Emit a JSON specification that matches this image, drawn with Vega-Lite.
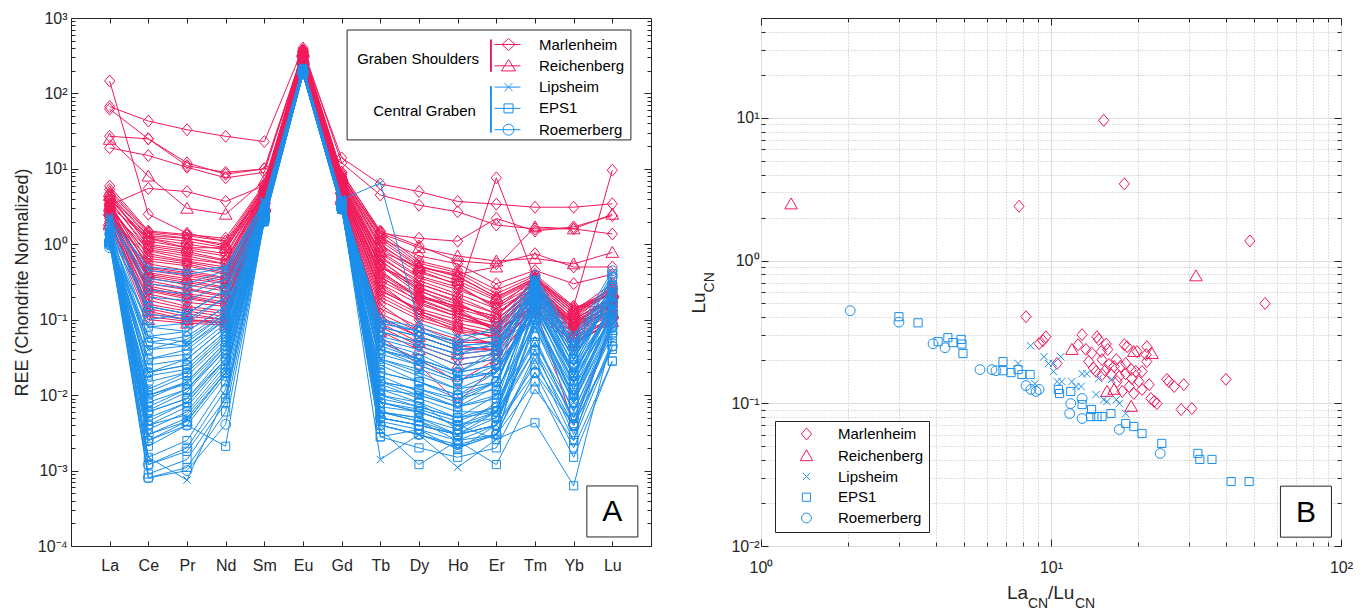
{
"$schema": "https://vega.github.io/schema/vega-lite/v6.json",
"background": "white",
"padding": {"left": 12, "top": 9, "right": 5, "bottom": 5},
"config": {
  "font": "Liberation Sans",
  "view": {"stroke": "#262626", "strokeWidth": 1},
  "axis": {"labelColor": "#262626", "titleColor": "#262626", "tickColor": "#262626", "domain": false, "labelFontSize": 16, "titleFontSize": 18, "titleFontWeight": "normal", "grid": false, "labelOverlap": false, "labelFlush": false},
  "legend": {"labelColor": "#000000", "labelFontSize": 15}
},
"datasets": {
"ree": [
{"id":"M1","site":"Marlenheim","La":146,"Ce":2.5,"Pr":1.4,"Nd":1.1,"Sm":4.5,"Eu":320,"Gd":6,"Tb":0.5,"Dy":0.3,"Ho":0.2,"Er":7.6,"Tm":0.35,"Yb":0.15,"Lu":9.6},
{"id":"M2","site":"Marlenheim","La":62,"Ce":25,"Pr":11,"Nd":9,"Sm":10,"Eu":360,"Gd":14,"Tb":6.3,"Dy":5,"Ho":3.7,"Er":3.4,"Tm":3.1,"Yb":3.1,"Lu":3.44},
{"id":"M3","site":"Marlenheim","La":67,"Ce":43,"Pr":33,"Nd":27,"Sm":23,"Eu":400,"Gd":12,"Tb":4.5,"Dy":3.3,"Ho":2.7,"Er":1.8,"Tm":1.6,"Yb":1.6,"Lu":1.37},
{"id":"M4","site":"Marlenheim","La":19,"Ce":15,"Pr":10.5,"Nd":7.6,"Sm":9,"Eu":350,"Gd":8,"Tb":1.4,"Dy":1.2,"Ho":1.1,"Er":2.2,"Tm":1.5,"Yb":1.7,"Lu":2.4},
{"id":"M5","site":"Marlenheim","La":27,"Ce":25,"Pr":12,"Nd":8.5,"Sm":10,"Eu":330,"Gd":9,"Tb":1.5,"Dy":0.95,"Ho":0.6,"Er":0.55,"Tm":0.75,"Yb":0.5,"Lu":0.5},
{"id":"M6","site":"Marlenheim","La":3.3,"Ce":5.5,"Pr":5,"Nd":3.7,"Sm":6,"Eu":300,"Gd":7,"Tb":1.2,"Dy":0.7,"Ho":0.55,"Er":0.3,"Tm":0.45,"Yb":0.3,"Lu":0.4},
{"id":"M7","site":"Marlenheim","La":2.57,"Ce":0.45,"Pr":0.38,"Nd":0.31,"Sm":4.1,"Eu":290,"Gd":5.6,"Tb":0.42,"Dy":0.21,"Ho":0.15,"Er":0.11,"Tm":0.31,"Yb":0.11,"Lu":0.274},
{"id":"M8","site":"Marlenheim","La":3.87,"Ce":0.82,"Pr":0.64,"Nd":0.55,"Sm":4.8,"Eu":320,"Gd":6.4,"Tb":0.65,"Dy":0.33,"Ho":0.22,"Er":0.14,"Tm":0.36,"Yb":0.13,"Lu":0.302},
{"id":"M9","site":"Marlenheim","La":4.07,"Ce":1.1,"Pr":0.9,"Nd":0.75,"Sm":5.2,"Eu":340,"Gd":7.1,"Tb":0.9,"Dy":0.42,"Ho":0.3,"Er":0.18,"Tm":0.33,"Yb":0.12,"Lu":0.279},
{"id":"M10","site":"Marlenheim","La":3.19,"Ce":0.36,"Pr":0.29,"Nd":0.24,"Sm":3.9,"Eu":270,"Gd":5.1,"Tb":0.33,"Dy":0.18,"Ho":0.12,"Er":0.09,"Tm":0.28,"Yb":0.1,"Lu":0.257},
{"id":"M11","site":"Marlenheim","La":3.43,"Ce":0.6,"Pr":0.52,"Nd":0.4,"Sm":4.5,"Eu":300,"Gd":6.0,"Tb":0.5,"Dy":0.26,"Ho":0.18,"Er":0.12,"Tm":0.3,"Yb":0.11,"Lu":0.23},
{"id":"M12","site":"Marlenheim","La":4.6,"Ce":1.3,"Pr":1.2,"Nd":0.95,"Sm":5.6,"Eu":360,"Gd":7.8,"Tb":1.1,"Dy":0.5,"Ho":0.38,"Er":0.2,"Tm":0.35,"Yb":0.13,"Lu":0.257},
{"id":"M13","site":"Marlenheim","La":5.33,"Ce":1.45,"Pr":1.3,"Nd":1.1,"Sm":6.0,"Eu":370,"Gd":8.5,"Tb":1.3,"Dy":0.56,"Ho":0.42,"Er":0.22,"Tm":0.38,"Yb":0.14,"Lu":0.249},
{"id":"M14","site":"Marlenheim","La":4.55,"Ce":0.95,"Pr":0.8,"Nd":0.62,"Sm":5.0,"Eu":330,"Gd":6.8,"Tb":0.75,"Dy":0.36,"Ho":0.25,"Er":0.16,"Tm":0.32,"Yb":0.12,"Lu":0.23},
{"id":"M15","site":"Marlenheim","La":3.03,"Ce":0.28,"Pr":0.22,"Nd":0.19,"Sm":3.7,"Eu":260,"Gd":4.8,"Tb":0.25,"Dy":0.13,"Ho":0.09,"Er":0.07,"Tm":0.25,"Yb":0.09,"Lu":0.202},
{"id":"M16","site":"Marlenheim","La":3.39,"Ce":0.5,"Pr":0.42,"Nd":0.35,"Sm":4.3,"Eu":295,"Gd":5.7,"Tb":0.4,"Dy":0.2,"Ho":0.14,"Er":0.1,"Tm":0.27,"Yb":0.1,"Lu":0.202},
{"id":"M17","site":"Marlenheim","La":2.96,"Ce":0.22,"Pr":0.17,"Nd":0.15,"Sm":3.6,"Eu":250,"Gd":4.6,"Tb":0.18,"Dy":0.1,"Ho":0.07,"Er":0.06,"Tm":0.24,"Yb":0.085,"Lu":0.187},
{"id":"M18","site":"Marlenheim","La":3.15,"Ce":0.4,"Pr":0.33,"Nd":0.27,"Sm":4.0,"Eu":280,"Gd":5.3,"Tb":0.3,"Dy":0.16,"Ho":0.11,"Er":0.08,"Tm":0.26,"Yb":0.095,"Lu":0.181},
{"id":"M19","site":"Marlenheim","La":3.25,"Ce":0.7,"Pr":0.58,"Nd":0.46,"Sm":4.4,"Eu":305,"Gd":5.9,"Tb":0.55,"Dy":0.24,"Ho":0.16,"Er":0.1,"Tm":0.25,"Yb":0.09,"Lu":0.172},
{"id":"M20","site":"Marlenheim","La":3.44,"Ce":0.33,"Pr":0.26,"Nd":0.21,"Sm":3.8,"Eu":265,"Gd":5.0,"Tb":0.22,"Dy":0.12,"Ho":0.08,"Er":0.065,"Tm":0.22,"Yb":0.08,"Lu":0.167},
{"id":"M21","site":"Marlenheim","La":4.19,"Ce":1.0,"Pr":0.85,"Nd":0.7,"Sm":5.1,"Eu":335,"Gd":6.9,"Tb":0.8,"Dy":0.38,"Ho":0.27,"Er":0.15,"Tm":0.29,"Yb":0.1,"Lu":0.196},
{"id":"M22","site":"Marlenheim","La":2.39,"Ce":0.18,"Pr":0.14,"Nd":0.12,"Sm":3.4,"Eu":240,"Gd":4.3,"Tb":0.14,"Dy":0.08,"Ho":0.055,"Er":0.05,"Tm":0.2,"Yb":0.075,"Lu":0.167},
{"id":"M23","site":"Marlenheim","La":2.56,"Ce":0.25,"Pr":0.2,"Nd":0.16,"Sm":3.5,"Eu":255,"Gd":4.5,"Tb":0.2,"Dy":0.11,"Ho":0.075,"Er":0.06,"Tm":0.21,"Yb":0.08,"Lu":0.159},
{"id":"M24","site":"Marlenheim","La":2.65,"Ce":0.55,"Pr":0.45,"Nd":0.36,"Sm":4.2,"Eu":285,"Gd":5.5,"Tb":0.45,"Dy":0.19,"Ho":0.12,"Er":0.08,"Tm":0.23,"Yb":0.085,"Lu":0.154},
{"id":"M25","site":"Marlenheim","La":2.83,"Ce":0.14,"Pr":0.11,"Nd":0.1,"Sm":3.3,"Eu":235,"Gd":4.2,"Tb":0.1,"Dy":0.06,"Ho":0.04,"Er":0.04,"Tm":0.18,"Yb":0.07,"Lu":0.149},
{"id":"M26","site":"Marlenheim","La":2.94,"Ce":0.75,"Pr":0.6,"Nd":0.5,"Sm":4.6,"Eu":310,"Gd":6.1,"Tb":0.6,"Dy":0.27,"Ho":0.17,"Er":0.09,"Tm":0.22,"Yb":0.075,"Lu":0.135},
{"id":"M27","site":"Marlenheim","La":2.44,"Ce":0.3,"Pr":0.25,"Nd":0.2,"Sm":3.6,"Eu":260,"Gd":4.7,"Tb":0.27,"Dy":0.13,"Ho":0.085,"Er":0.055,"Tm":0.19,"Yb":0.07,"Lu":0.131},
{"id":"M28","site":"Marlenheim","La":2.58,"Ce":0.12,"Pr":0.1,"Nd":0.09,"Sm":3.2,"Eu":230,"Gd":4.0,"Tb":0.08,"Dy":0.045,"Ho":0.03,"Er":0.035,"Tm":0.17,"Yb":0.065,"Lu":0.125},
{"id":"M29","site":"Marlenheim","La":2.34,"Ce":0.65,"Pr":0.55,"Nd":0.42,"Sm":4.3,"Eu":300,"Gd":5.8,"Tb":0.52,"Dy":0.22,"Ho":0.13,"Er":0.07,"Tm":0.16,"Yb":0.06,"Lu":0.103},
{"id":"M30","site":"Marlenheim","La":2.31,"Ce":0.2,"Pr":0.15,"Nd":0.13,"Sm":3.4,"Eu":245,"Gd":4.4,"Tb":0.16,"Dy":0.07,"Ho":0.045,"Er":0.04,"Tm":0.15,"Yb":0.055,"Lu":0.0995},
{"id":"M31","site":"Marlenheim","La":3.69,"Ce":0.9,"Pr":0.75,"Nd":0.6,"Sm":4.9,"Eu":325,"Gd":6.6,"Tb":0.7,"Dy":0.3,"Ho":0.2,"Er":0.12,"Tm":0.27,"Yb":0.09,"Lu":0.147},
{"id":"M32","site":"Marlenheim","La":3.48,"Ce":0.48,"Pr":0.4,"Nd":0.33,"Sm":4.2,"Eu":290,"Gd":5.4,"Tb":0.38,"Dy":0.17,"Ho":0.11,"Er":0.075,"Tm":0.24,"Yb":0.08,"Lu":0.131},
{"id":"M33","site":"Marlenheim","La":3.87,"Ce":1.2,"Pr":1.0,"Nd":0.85,"Sm":5.4,"Eu":350,"Gd":7.4,"Tb":1.0,"Dy":0.45,"Ho":0.29,"Er":0.14,"Tm":0.26,"Yb":0.085,"Lu":0.135},
{"id":"M34","site":"Marlenheim","La":2.54,"Ce":0.38,"Pr":0.31,"Nd":0.26,"Sm":3.9,"Eu":275,"Gd":5.0,"Tb":0.3,"Dy":0.12,"Ho":0.07,"Er":0.045,"Tm":0.14,"Yb":0.05,"Lu":0.0904},
{"id":"M35","site":"Marlenheim","La":2.81,"Ce":0.85,"Pr":0.7,"Nd":0.55,"Sm":4.7,"Eu":315,"Gd":6.3,"Tb":0.62,"Dy":0.25,"Ho":0.14,"Er":0.07,"Tm":0.15,"Yb":0.004,"Lu":0.0918},
{"id":"M36","site":"Marlenheim","La":5.9,"Ce":1.5,"Pr":1.35,"Nd":1.2,"Sm":6.2,"Eu":380,"Gd":9.0,"Tb":1.45,"Dy":0.6,"Ho":0.45,"Er":0.25,"Tm":0.4,"Yb":0.15,"Lu":0.147},
{"id":"M37","site":"Marlenheim","La":2.0,"Ce":0.16,"Pr":0.13,"Nd":0.11,"Sm":3.2,"Eu":235,"Gd":4.1,"Tb":0.12,"Dy":0.07,"Ho":0.05,"Er":0.05,"Tm":0.22,"Yb":0.09,"Lu":0.19},
{"id":"M38","site":"Marlenheim","La":2.65,"Ce":0.26,"Pr":0.21,"Nd":0.17,"Sm":3.7,"Eu":260,"Gd":4.9,"Tb":0.24,"Dy":0.14,"Ho":0.1,"Er":0.08,"Tm":0.27,"Yb":0.1,"Lu":0.196},
{"id":"M39","site":"Marlenheim","La":2.2,"Ce":0.11,"Pr":0.095,"Nd":0.09,"Sm":3.0,"Eu":220,"Gd":3.8,"Tb":0.06,"Dy":0.025,"Ho":0.008,"Er":0.025,"Tm":0.12,"Yb":0.045,"Lu":0.1},
{"id":"M40","site":"Marlenheim","La":2.4,"Ce":0.24,"Pr":0.19,"Nd":0.16,"Sm":3.5,"Eu":250,"Gd":4.5,"Tb":0.05,"Dy":0.03,"Ho":0.015,"Er":0.03,"Tm":0.13,"Yb":0.05,"Lu":0.11},
{"id":"R1","site":"Reichenberg","La":3.2,"Ce":1.2,"Pr":0.9,"Nd":0.9,"Sm":4.5,"Eu":280,"Gd":5.5,"Tb":0.8,"Dy":0.5,"Ho":0.4,"Er":0.5,"Tm":1.7,"Yb":1.6,"Lu":2.5},
{"id":"R2","site":"Reichenberg","La":24.6,"Ce":8,"Pr":3,"Nd":2.5,"Sm":7,"Eu":300,"Gd":8,"Tb":1.4,"Dy":0.9,"Ho":0.7,"Er":0.6,"Tm":0.65,"Yb":0.55,"Lu":0.78},
{"id":"R3","site":"Reichenberg","La":2.81,"Ce":0.42,"Pr":0.35,"Nd":0.3,"Sm":4.0,"Eu":285,"Gd":5.4,"Tb":0.36,"Dy":0.2,"Ho":0.15,"Er":0.11,"Tm":0.33,"Yb":0.12,"Lu":0.238},
{"id":"R4","site":"Reichenberg","La":1.8,"Ce":0.1,"Pr":0.09,"Nd":0.085,"Sm":3.1,"Eu":225,"Gd":3.9,"Tb":0.07,"Dy":0.04,"Ho":0.025,"Er":0.03,"Tm":0.14,"Yb":0.05,"Lu":0.095},
{"id":"R5","site":"Reichenberg","La":2.06,"Ce":0.15,"Pr":0.12,"Nd":0.1,"Sm":3.3,"Eu":240,"Gd":4.2,"Tb":0.11,"Dy":0.06,"Ho":0.04,"Er":0.045,"Tm":0.18,"Yb":0.065,"Lu":0.125},
{"id":"R6","site":"Reichenberg","La":4.44,"Ce":1.25,"Pr":1.1,"Nd":0.9,"Sm":5.5,"Eu":355,"Gd":7.5,"Tb":0.95,"Dy":0.48,"Ho":0.33,"Er":0.19,"Tm":0.34,"Yb":0.13,"Lu":0.23},
{"id":"R7","site":"Reichenberg","La":4.97,"Ce":1.4,"Pr":1.2,"Nd":1.0,"Sm":5.8,"Eu":365,"Gd":8.2,"Tb":1.2,"Dy":0.52,"Ho":0.37,"Er":0.2,"Tm":0.36,"Yb":0.14,"Lu":0.223},
{"id":"R8","site":"Reichenberg","La":1.89,"Ce":0.13,"Pr":0.1,"Nd":0.095,"Sm":3.2,"Eu":230,"Gd":4.0,"Tb":0.09,"Dy":0.05,"Ho":0.035,"Er":0.04,"Tm":0.16,"Yb":0.06,"Lu":0.121},
{"id":"L1","site":"Lipsheim","La":1.46,"Ce":0.06,"Pr":0.05,"Nd":0.12,"Sm":2.8,"Eu":200,"Gd":3.4,"Tb":0.05,"Dy":0.03,"Ho":0.02,"Er":0.025,"Tm":0.3,"Yb":0.04,"Lu":0.19},
{"id":"L2","site":"Lipsheim","La":2.15,"Ce":0.35,"Pr":0.3,"Nd":0.45,"Sm":3.6,"Eu":220,"Gd":3.9,"Tb":6.5,"Dy":0.09,"Ho":0.06,"Er":0.07,"Tm":0.35,"Yb":0.06,"Lu":0.253},
{"id":"L3","site":"Lipsheim","La":1.86,"Ce":0.15,"Pr":0.12,"Nd":0.25,"Sm":3.2,"Eu":212,"Gd":3.7,"Tb":0.06,"Dy":0.045,"Ho":0.03,"Er":0.035,"Tm":0.25,"Yb":0.035,"Lu":0.19},
{"id":"L4","site":"Lipsheim","La":2.29,"Ce":0.5,"Pr":0.45,"Nd":0.5,"Sm":3.8,"Eu":225,"Gd":4.0,"Tb":0.1,"Dy":0.08,"Ho":0.05,"Er":0.06,"Tm":0.32,"Yb":0.05,"Lu":0.212},
{"id":"L5","site":"Lipsheim","La":1.49,"Ce":0.02,"Pr":0.03,"Nd":0.08,"Sm":2.6,"Eu":195,"Gd":3.3,"Tb":0.0014,"Dy":0.003,"Ho":0.0011,"Er":0.0026,"Tm":0.2,"Yb":0.02,"Lu":0.142},
{"id":"L6","site":"Lipsheim","La":1.68,"Ce":0.04,"Pr":0.045,"Nd":0.11,"Sm":2.9,"Eu":203,"Gd":3.5,"Tb":0.03,"Dy":0.02,"Ho":0.012,"Er":0.015,"Tm":0.22,"Yb":0.025,"Lu":0.142},
{"id":"L7","site":"Lipsheim","La":1.66,"Ce":0.01,"Pr":0.015,"Nd":0.05,"Sm":2.5,"Eu":193,"Gd":3.25,"Tb":0.015,"Dy":0.01,"Ho":0.007,"Er":0.01,"Tm":0.18,"Yb":0.02,"Lu":0.131},
{"id":"L8","site":"Lipsheim","La":2.06,"Ce":0.25,"Pr":0.22,"Nd":0.35,"Sm":3.4,"Eu":215,"Gd":3.8,"Tb":0.07,"Dy":0.05,"Ho":0.035,"Er":0.04,"Tm":0.28,"Yb":0.04,"Lu":0.161},
{"id":"L9","site":"Lipsheim","La":2.18,"Ce":0.3,"Pr":0.26,"Nd":0.4,"Sm":3.5,"Eu":218,"Gd":3.85,"Tb":0.08,"Dy":0.06,"Ho":0.04,"Er":0.045,"Tm":0.3,"Yb":0.045,"Lu":0.149},
{"id":"L10","site":"Lipsheim","La":2.38,"Ce":0.45,"Pr":0.4,"Nd":0.48,"Sm":3.7,"Eu":222,"Gd":3.95,"Tb":0.09,"Dy":0.07,"Ho":0.045,"Er":0.05,"Tm":0.34,"Yb":0.05,"Lu":0.147},
{"id":"L11","site":"Lipsheim","La":1.64,"Ce":0.005,"Pr":0.008,"Nd":0.03,"Sm":2.3,"Eu":188,"Gd":3.1,"Tb":0.008,"Dy":0.006,"Ho":0.004,"Er":0.006,"Tm":0.13,"Yb":0.015,"Lu":0.115},
{"id":"L12","site":"Lipsheim","La":1.61,"Ce":0.0015,"Pr":0.00075,"Nd":0.01,"Sm":2.1,"Eu":182,"Gd":3.0,"Tb":0.004,"Dy":0.003,"Ho":0.002,"Er":0.003,"Tm":0.1,"Yb":0.01,"Lu":0.103},
{"id":"L13","site":"Lipsheim","La":1.78,"Ce":0.08,"Pr":0.07,"Nd":0.15,"Sm":3.0,"Eu":206,"Gd":3.6,"Tb":0.04,"Dy":0.028,"Ho":0.018,"Er":0.02,"Tm":0.16,"Yb":0.018,"Lu":0.106},
{"id":"L14","site":"Lipsheim","La":1.53,"Ce":0.003,"Pr":0.005,"Nd":0.02,"Sm":2.2,"Eu":185,"Gd":3.05,"Tb":0.006,"Dy":0.005,"Ho":0.003,"Er":0.004,"Tm":0.08,"Yb":0.008,"Lu":0.0847},
{"id":"L15","site":"Lipsheim","La":2.0,"Ce":0.12,"Pr":0.1,"Nd":0.2,"Sm":3.1,"Eu":210,"Gd":3.65,"Tb":0.055,"Dy":0.04,"Ho":0.025,"Er":0.03,"Tm":0.24,"Yb":0.03,"Lu":0.212},
{"id":"E1","site":"EPS1","La":1.21,"Ce":0.04,"Pr":0.055,"Nd":0.12,"Sm":2.6,"Eu":195,"Gd":3.3,"Tb":0.045,"Dy":0.03,"Ho":0.02,"Er":0.035,"Tm":0.32,"Yb":0.05,"Lu":0.404},
{"id":"E2","site":"EPS1","La":1.27,"Ce":0.012,"Pr":0.02,"Nd":0.06,"Sm":2.4,"Eu":190,"Gd":3.2,"Tb":0.02,"Dy":0.015,"Ho":0.01,"Er":0.02,"Tm":0.3,"Yb":0.04,"Lu":0.366},
{"id":"E3","site":"EPS1","La":1.1,"Ce":0.0063,"Pr":0.011,"Nd":0.04,"Sm":2.3,"Eu":185,"Gd":3.1,"Tb":0.012,"Dy":0.01,"Ho":0.007,"Er":0.013,"Tm":0.27,"Yb":0.03,"Lu":0.27},
{"id":"E4","site":"EPS1","La":1.27,"Ce":0.025,"Pr":0.03,"Nd":0.08,"Sm":2.7,"Eu":200,"Gd":3.4,"Tb":0.03,"Dy":0.022,"Ho":0.015,"Er":0.025,"Tm":0.28,"Yb":0.035,"Lu":0.288},
{"id":"E5","site":"EPS1","La":1.22,"Ce":0.0021,"Pr":0.004,"Nd":0.0021,"Sm":2.2,"Eu":182,"Gd":3.0,"Tb":0.006,"Dy":0.005,"Ho":0.0035,"Er":0.008,"Tm":0.24,"Yb":0.02,"Lu":0.266},
{"id":"E6","site":"EPS1","La":1.37,"Ce":0.08,"Pr":0.09,"Nd":0.2,"Sm":2.9,"Eu":205,"Gd":3.5,"Tb":0.07,"Dy":0.05,"Ho":0.035,"Er":0.05,"Tm":0.26,"Yb":0.045,"Lu":0.28},
{"id":"E7","site":"EPS1","La":1.11,"Ce":0.0035,"Pr":0.006,"Nd":0.025,"Sm":2.3,"Eu":186,"Gd":3.1,"Tb":0.009,"Dy":0.007,"Ho":0.005,"Er":0.01,"Tm":0.2,"Yb":0.025,"Lu":0.223},
{"id":"E8","site":"EPS1","La":1.34,"Ce":0.15,"Pr":0.12,"Nd":0.25,"Sm":3.0,"Eu":208,"Gd":3.6,"Tb":0.08,"Dy":0.06,"Ho":0.04,"Er":0.045,"Tm":0.22,"Yb":0.03,"Lu":0.196},
{"id":"E9","site":"EPS1","La":1.15,"Ce":0.009,"Pr":0.015,"Nd":0.05,"Sm":2.4,"Eu":190,"Gd":3.2,"Tb":0.015,"Dy":0.012,"Ho":0.008,"Er":0.015,"Tm":0.18,"Yb":0.018,"Lu":0.169},
{"id":"E10","site":"EPS1","La":1.19,"Ce":0.02,"Pr":0.025,"Nd":0.07,"Sm":2.5,"Eu":193,"Gd":3.2,"Tb":0.028,"Dy":0.018,"Ho":0.012,"Er":0.02,"Tm":0.17,"Yb":0.015,"Lu":0.164},
{"id":"E11","site":"EPS1","La":1.26,"Ce":0.0045,"Pr":0.008,"Nd":0.03,"Sm":2.35,"Eu":188,"Gd":3.1,"Tb":0.0028,"Dy":0.0035,"Ho":0.0019,"Er":0.004,"Tm":0.15,"Yb":0.012,"Lu":0.159},
{"id":"E12","site":"EPS1","La":1.33,"Ce":0.05,"Pr":0.045,"Nd":0.1,"Sm":2.8,"Eu":200,"Gd":3.4,"Tb":0.04,"Dy":0.025,"Ho":0.016,"Er":0.02,"Tm":0.12,"Yb":0.01,"Lu":0.125},
{"id":"E13","site":"EPS1","La":1.42,"Ce":0.0008,"Pr":0.0011,"Nd":0.006,"Sm":2.0,"Eu":178,"Gd":2.9,"Tb":0.0035,"Dy":0.0012,"Ho":0.0025,"Er":0.0012,"Tm":0.012,"Yb":0.0025,"Lu":0.121},
{"id":"E14","site":"EPS1","La":1.25,"Ce":0.007,"Pr":0.012,"Nd":0.045,"Sm":2.4,"Eu":189,"Gd":3.2,"Tb":0.01,"Dy":0.008,"Ho":0.005,"Er":0.007,"Tm":0.1,"Yb":0.008,"Lu":0.098},
{"id":"E15","site":"EPS1","La":1.25,"Ce":0.03,"Pr":0.035,"Nd":0.09,"Sm":2.7,"Eu":198,"Gd":3.4,"Tb":0.025,"Dy":0.015,"Ho":0.009,"Er":0.012,"Tm":0.08,"Yb":0.006,"Lu":0.0904},
{"id":"E16","site":"EPS1","La":1.21,"Ce":0.0015,"Pr":0.0025,"Nd":0.015,"Sm":2.1,"Eu":180,"Gd":3.0,"Tb":0.005,"Dy":0.004,"Ho":0.003,"Er":0.005,"Tm":0.06,"Yb":0.0042,"Lu":0.0807},
{"id":"E17","site":"EPS1","La":1.3,"Ce":0.011,"Pr":0.018,"Nd":0.055,"Sm":2.5,"Eu":192,"Gd":3.3,"Tb":0.018,"Dy":0.011,"Ho":0.007,"Er":0.009,"Tm":0.05,"Yb":0.0063,"Lu":0.0721},
{"id":"E18","site":"EPS1","La":1.26,"Ce":0.0025,"Pr":0.0045,"Nd":0.02,"Sm":2.2,"Eu":184,"Gd":3.05,"Tb":0.007,"Dy":0.006,"Ho":0.004,"Er":0.0026,"Tm":0.0043,"Yb":0.00063,"Lu":0.0614},
{"id":"E19","site":"EPS1","La":1.26,"Ce":0.018,"Pr":0.022,"Nd":0.065,"Sm":2.6,"Eu":195,"Gd":3.3,"Tb":0.014,"Dy":0.009,"Ho":0.006,"Er":0.006,"Tm":0.04,"Yb":0.003,"Lu":0.0523},
{"id":"E20","site":"EPS1","La":1.43,"Ce":0.0012,"Pr":0.0018,"Nd":0.009,"Sm":2.1,"Eu":181,"Gd":3.0,"Tb":0.004,"Dy":0.003,"Ho":0.002,"Er":0.003,"Tm":0.03,"Yb":0.0025,"Lu":0.0445},
{"id":"E21","site":"EPS1","La":1.45,"Ce":0.006,"Pr":0.009,"Nd":0.035,"Sm":2.3,"Eu":187,"Gd":3.1,"Tb":0.006,"Dy":0.0045,"Ho":0.003,"Er":0.004,"Tm":0.025,"Yb":0.004,"Lu":0.0404},
{"id":"E22","site":"EPS1","La":1.18,"Ce":0.0009,"Pr":0.0014,"Nd":0.008,"Sm":2.0,"Eu":179,"Gd":2.9,"Tb":0.0028,"Dy":0.002,"Ho":0.0015,"Er":0.002,"Tm":0.02,"Yb":0.002,"Lu":0.0283},
{"id":"E23","site":"EPS1","La":1.36,"Ce":0.004,"Pr":0.007,"Nd":0.028,"Sm":2.3,"Eu":186,"Gd":3.1,"Tb":0.0045,"Dy":0.0035,"Ho":0.0025,"Er":0.003,"Tm":0.015,"Yb":0.0015,"Lu":0.0283},
{"id":"C1","site":"Roemerberg","La":0.9,"Ce":0.1,"Pr":0.12,"Nd":0.25,"Sm":2.5,"Eu":195,"Gd":3.2,"Tb":0.09,"Dy":0.07,"Ho":0.05,"Er":0.08,"Tm":0.38,"Yb":0.06,"Lu":0.445},
{"id":"C2","site":"Roemerberg","La":1.1,"Ce":0.03,"Pr":0.04,"Nd":0.1,"Sm":2.6,"Eu":196,"Gd":3.3,"Tb":0.04,"Dy":0.03,"Ho":0.02,"Er":0.04,"Tm":0.33,"Yb":0.045,"Lu":0.37},
{"id":"C3","site":"Roemerberg","La":1.02,"Ce":0.008,"Pr":0.012,"Nd":0.04,"Sm":2.3,"Eu":188,"Gd":3.1,"Tb":0.015,"Dy":0.012,"Ho":0.009,"Er":0.015,"Tm":0.25,"Yb":0.03,"Lu":0.261},
{"id":"C4","site":"Roemerberg","La":1.06,"Ce":0.0008,"Pr":0.001,"Nd":0.0041,"Sm":2.0,"Eu":180,"Gd":2.9,"Tb":0.005,"Dy":0.004,"Ho":0.003,"Er":0.006,"Tm":0.22,"Yb":0.025,"Lu":0.245},
{"id":"C5","site":"Roemerberg","La":0.98,"Ce":0.015,"Pr":0.02,"Nd":0.06,"Sm":2.4,"Eu":190,"Gd":3.2,"Tb":0.02,"Dy":0.015,"Ho":0.01,"Er":0.015,"Tm":0.16,"Yb":0.02,"Lu":0.172},
{"id":"C6","site":"Roemerberg","La":1.08,"Ce":0.05,"Pr":0.06,"Nd":0.13,"Sm":2.7,"Eu":198,"Gd":3.4,"Tb":0.035,"Dy":0.025,"Ho":0.016,"Er":0.02,"Tm":0.15,"Yb":0.018,"Lu":0.172},
{"id":"C7","site":"Roemerberg","La":1.09,"Ce":0.004,"Pr":0.0055,"Nd":0.022,"Sm":2.2,"Eu":185,"Gd":3.05,"Tb":0.008,"Dy":0.0065,"Ho":0.0045,"Er":0.007,"Tm":0.14,"Yb":0.014,"Lu":0.169},
{"id":"C8","site":"Roemerberg","La":1.09,"Ce":0.02,"Pr":0.025,"Nd":0.07,"Sm":2.5,"Eu":193,"Gd":3.2,"Tb":0.012,"Dy":0.008,"Ho":0.0035,"Er":0.006,"Tm":0.1,"Yb":0.01,"Lu":0.133},
{"id":"C9","site":"Roemerberg","La":1.07,"Ce":0.0025,"Pr":0.004,"Nd":0.018,"Sm":2.2,"Eu":184,"Gd":3.0,"Tb":0.006,"Dy":0.0045,"Ho":0.0025,"Er":0.004,"Tm":0.09,"Yb":0.008,"Lu":0.125},
{"id":"C10","site":"Roemerberg","La":1.07,"Ce":0.06,"Pr":0.07,"Nd":0.15,"Sm":2.8,"Eu":200,"Gd":3.5,"Tb":0.05,"Dy":0.035,"Ho":0.02,"Er":0.025,"Tm":0.11,"Yb":0.009,"Lu":0.121},
{"id":"C11","site":"Roemerberg","La":0.98,"Ce":0.006,"Pr":0.009,"Nd":0.03,"Sm":2.3,"Eu":187,"Gd":3.1,"Tb":0.01,"Dy":0.007,"Ho":0.005,"Er":0.006,"Tm":0.05,"Yb":0.005,"Lu":0.0847},
{"id":"C12","site":"Roemerberg","La":1.38,"Ce":0.2,"Pr":0.18,"Nd":0.3,"Sm":3.1,"Eu":210,"Gd":3.7,"Tb":0.1,"Dy":0.07,"Ho":0.045,"Er":0.05,"Tm":0.1,"Yb":0.012,"Lu":0.108},
{"id":"C13","site":"Roemerberg","La":1.0,"Ce":0.0012,"Pr":0.002,"Nd":0.012,"Sm":2.1,"Eu":182,"Gd":2.95,"Tb":0.004,"Dy":0.003,"Ho":0.0022,"Er":0.003,"Tm":0.035,"Yb":0.004,"Lu":0.0782},
{"id":"C14","site":"Roemerberg","La":1.13,"Ce":0.01,"Pr":0.014,"Nd":0.045,"Sm":2.4,"Eu":189,"Gd":3.15,"Tb":0.008,"Dy":0.006,"Ho":0.004,"Er":0.005,"Tm":0.04,"Yb":0.005,"Lu":0.0655},
{"id":"C15","site":"Roemerberg","La":1.06,"Ce":0.003,"Pr":0.0045,"Nd":0.02,"Sm":2.2,"Eu":184,"Gd":3.0,"Tb":0.005,"Dy":0.004,"Ho":0.003,"Er":0.004,"Tm":0.02,"Yb":0.004,"Lu":0.0445}
],
"ratio": [
{"site":"Marlenheim","r":15.2,"lu":9.6},{"site":"Marlenheim","r":17.9,"lu":3.44},{"site":"Marlenheim","r":7.76,"lu":2.4},{"site":"Marlenheim","r":48.5,"lu":1.37},{"site":"Marlenheim","r":54.7,"lu":0.5},{"site":"Marlenheim","r":8.2,"lu":0.404},{"site":"Marlenheim","r":9.38,"lu":0.274},{"site":"Marlenheim","r":9.6,"lu":0.292},{"site":"Marlenheim","r":12.8,"lu":0.302},{"site":"Marlenheim","r":14.4,"lu":0.292},{"site":"Marlenheim","r":14.6,"lu":0.279},{"site":"Marlenheim","r":12.4,"lu":0.257},{"site":"Marlenheim","r":13.2,"lu":0.238},{"site":"Marlenheim","r":14.9,"lu":0.23},{"site":"Marlenheim","r":15.7,"lu":0.238},{"site":"Marlenheim","r":17.9,"lu":0.257},{"site":"Marlenheim","r":18.3,"lu":0.249},{"site":"Marlenheim","r":21.4,"lu":0.249},{"site":"Marlenheim","r":19.8,"lu":0.23},{"site":"Marlenheim","r":21.3,"lu":0.219},{"site":"Marlenheim","r":15.0,"lu":0.202},{"site":"Marlenheim","r":16.8,"lu":0.202},{"site":"Marlenheim","r":15.85,"lu":0.187},{"site":"Marlenheim","r":16.5,"lu":0.181},{"site":"Marlenheim","r":17.4,"lu":0.181},{"site":"Marlenheim","r":18.1,"lu":0.19},{"site":"Marlenheim","r":18.9,"lu":0.172},{"site":"Marlenheim","r":19.6,"lu":0.167},{"site":"Marlenheim","r":20.6,"lu":0.167},{"site":"Marlenheim","r":21.4,"lu":0.196},{"site":"Marlenheim","r":14.3,"lu":0.167},{"site":"Marlenheim","r":15.0,"lu":0.159},{"site":"Marlenheim","r":16.1,"lu":0.159},{"site":"Marlenheim","r":17.2,"lu":0.154},{"site":"Marlenheim","r":18.1,"lu":0.161},{"site":"Marlenheim","r":19.0,"lu":0.149},{"site":"Marlenheim","r":20.1,"lu":0.142},{"site":"Marlenheim","r":21.8,"lu":0.135},{"site":"Marlenheim","r":18.6,"lu":0.131},{"site":"Marlenheim","r":20.6,"lu":0.125},{"site":"Marlenheim","r":22.1,"lu":0.108},{"site":"Marlenheim","r":22.7,"lu":0.103},{"site":"Marlenheim","r":23.2,"lu":0.0995},{"site":"Marlenheim","r":25.1,"lu":0.147},{"site":"Marlenheim","r":25.5,"lu":0.142},{"site":"Marlenheim","r":26.6,"lu":0.131},{"site":"Marlenheim","r":28.7,"lu":0.135},{"site":"Marlenheim","r":28.1,"lu":0.0904},{"site":"Marlenheim","r":30.6,"lu":0.0918},{"site":"Marlenheim","r":40.1,"lu":0.147},{"site":"Marlenheim","r":10.5,"lu":0.19},{"site":"Marlenheim","r":9.1,"lu":0.262},{"site":"Marlenheim","r":13.5,"lu":0.196},{"site":"Marlenheim","r":14.0,"lu":0.177},{"site":"Marlenheim","r":15.4,"lu":0.17},{"site":"Marlenheim","r":16.9,"lu":0.142},{"site":"Marlenheim","r":17.6,"lu":0.121},{"site":"Marlenheim","r":19.3,"lu":0.117},{"site":"Marlenheim","r":15.5,"lu":0.26},{"site":"Marlenheim","r":13.8,"lu":0.225},
{"site":"Reichenberg","r":1.27,"lu":2.49},{"site":"Reichenberg","r":31.6,"lu":0.78},{"site":"Reichenberg","r":11.8,"lu":0.238},{"site":"Reichenberg","r":18.9,"lu":0.095},{"site":"Reichenberg","r":16.5,"lu":0.125},{"site":"Reichenberg","r":15.6,"lu":0.121},{"site":"Reichenberg","r":19.3,"lu":0.23},{"site":"Reichenberg","r":22.3,"lu":0.223},
{"site":"Lipsheim","r":7.7,"lu":0.19},{"site":"Lipsheim","r":8.5,"lu":0.253},{"site":"Lipsheim","r":8.8,"lu":0.137},{"site":"Lipsheim","r":9.8,"lu":0.19},{"site":"Lipsheim","r":10.2,"lu":0.19},{"site":"Lipsheim","r":10.8,"lu":0.212},{"site":"Lipsheim","r":10.5,"lu":0.142},{"site":"Lipsheim","r":10.9,"lu":0.142},{"site":"Lipsheim","r":11.8,"lu":0.142},{"site":"Lipsheim","r":12.7,"lu":0.131},{"site":"Lipsheim","r":12.2,"lu":0.131},{"site":"Lipsheim","r":12.8,"lu":0.161},{"site":"Lipsheim","r":13.3,"lu":0.161},{"site":"Lipsheim","r":14.6,"lu":0.149},{"site":"Lipsheim","r":16.2,"lu":0.147},{"site":"Lipsheim","r":14.3,"lu":0.115},{"site":"Lipsheim","r":15.2,"lu":0.106},{"site":"Lipsheim","r":15.6,"lu":0.103},{"site":"Lipsheim","r":16.8,"lu":0.106},{"site":"Lipsheim","r":17.2,"lu":0.0995},{"site":"Lipsheim","r":18.1,"lu":0.0847},{"site":"Lipsheim","r":10.2,"lu":0.167},{"site":"Lipsheim","r":9.46,"lu":0.212},
{"site":"EPS1","r":2.99,"lu":0.404},{"site":"EPS1","r":3.48,"lu":0.366},{"site":"EPS1","r":4.08,"lu":0.27},{"site":"EPS1","r":4.41,"lu":0.288},{"site":"EPS1","r":4.59,"lu":0.266},{"site":"EPS1","r":4.9,"lu":0.28},{"site":"EPS1","r":4.93,"lu":0.26},{"site":"EPS1","r":4.97,"lu":0.223},{"site":"EPS1","r":6.83,"lu":0.196},{"site":"EPS1","r":6.83,"lu":0.169},{"site":"EPS1","r":7.28,"lu":0.164},{"site":"EPS1","r":7.7,"lu":0.172},{"site":"EPS1","r":7.94,"lu":0.159},{"site":"EPS1","r":8.47,"lu":0.159},{"site":"EPS1","r":10.6,"lu":0.125},{"site":"EPS1","r":10.7,"lu":0.117},{"site":"EPS1","r":11.7,"lu":0.121},{"site":"EPS1","r":12.8,"lu":0.098},{"site":"EPS1","r":13.8,"lu":0.0904},{"site":"EPS1","r":13.7,"lu":0.0807},{"site":"EPS1","r":14.4,"lu":0.0807},{"site":"EPS1","r":15.0,"lu":0.0807},{"site":"EPS1","r":16.1,"lu":0.0847},{"site":"EPS1","r":18.1,"lu":0.0721},{"site":"EPS1","r":19.3,"lu":0.0687},{"site":"EPS1","r":20.6,"lu":0.0614},{"site":"EPS1","r":24.1,"lu":0.0523},{"site":"EPS1","r":32.1,"lu":0.0445},{"site":"EPS1","r":32.6,"lu":0.0404},{"site":"EPS1","r":35.9,"lu":0.0404},{"site":"EPS1","r":41.8,"lu":0.0283},{"site":"EPS1","r":48.2,"lu":0.0283},
{"site":"Roemerberg","r":2.03,"lu":0.445},{"site":"Roemerberg","r":2.99,"lu":0.37},{"site":"Roemerberg","r":3.92,"lu":0.261},{"site":"Roemerberg","r":4.31,"lu":0.245},{"site":"Roemerberg","r":5.69,"lu":0.172},{"site":"Roemerberg","r":6.26,"lu":0.172},{"site":"Roemerberg","r":6.46,"lu":0.169},{"site":"Roemerberg","r":8.2,"lu":0.133},{"site":"Roemerberg","r":8.53,"lu":0.125},{"site":"Roemerberg","r":8.88,"lu":0.121},{"site":"Roemerberg","r":9.1,"lu":0.125},{"site":"Roemerberg","r":11.6,"lu":0.0847},{"site":"Roemerberg","r":11.7,"lu":0.0995},{"site":"Roemerberg","r":12.8,"lu":0.108},{"site":"Roemerberg","r":12.8,"lu":0.0782},{"site":"Roemerberg","r":17.2,"lu":0.0655},{"site":"Roemerberg","r":23.8,"lu":0.0445}
]
},
"hconcat": [
{
  "width": 580, "height": 528,
  "layer": [
    {
      "data": {"name": "ree"},
      "transform": [{"fold": ["La","Ce","Pr","Nd","Sm","Eu","Gd","Tb","Dy","Ho","Er","Tm","Yb","Lu"], "as": ["el","val"]}, {"filter": "datum.site==='Marlenheim'||datum.site==='Reichenberg'"}],
      "mark": {"type": "line", "strokeWidth": 1},
      "encoding": {
        "x": {"field": "el", "type": "nominal", "scale": {"type": "point", "domain": ["La","Ce","Pr","Nd","Sm","Eu","Gd","Tb","Dy","Ho","Er","Tm","Yb","Lu"], "padding": 1}, "axis": {"orient": "bottom", "title": null, "labelAngle": 0, "tickSize": -5, "labelPadding": 16, "labelColor": "#262626"}},
        "y": {"field": "val", "type": "quantitative", "scale": {"type": "log", "domain": [0.0001, 1000], "nice": false}, "axis": {"orient": "left", "values": [0.0001,0.0002,0.0003,0.0004,0.0005,0.0006,0.0007,0.0008,0.0009,0.001,0.002,0.003,0.004,0.005,0.006,0.007,0.008,0.009,0.01,0.02,0.03,0.04,0.05,0.06,0.07,0.08,0.09,0.1,0.2,0.3,0.4,0.5,0.6,0.7,0.8,0.9,1,2,3,4,5,6,7,8,9,10,20,30,40,50,60,70,80,90,100,200,300,400,500,600,700,800,900,1000], "labelExpr": "abs(log(datum.value)/LN10-round(log(datum.value)/LN10))<0.001 ? '10'+['⁻⁴','⁻³','⁻²','⁻¹','⁰','¹','²','³'][round(log(datum.value)/LN10)+4] : ''", "tickSize": {"condition": {"test": "abs(log(datum.value)/LN10-round(log(datum.value)/LN10))<0.001", "value": -7}, "value": -4}, "labelPadding": 11, "title": "REE (Chondrite Normalized)", "titlePadding": 6}},
        "detail": {"field": "id"},
        "order": {"value": null},
        "color": {"field": "site", "type": "nominal", "scale": {"domain": ["Marlenheim","Reichenberg","Lipsheim","EPS1","Roemerberg"], "range": ["#F0195A","#F0195A","#1B8FEB","#1B8FEB","#1B8FEB"]}, "legend": null}
      }
    },
    {
      "data": {"name": "ree"},
      "transform": [{"fold": ["La","Ce","Pr","Nd","Sm","Eu","Gd","Tb","Dy","Ho","Er","Tm","Yb","Lu"], "as": ["el","val"]}, {"filter": "datum.site==='Marlenheim'||datum.site==='Reichenberg'"}],
      "mark": {"type": "point", "filled": false, "size": 144, "strokeWidth": 1, "opacity": 1},
      "encoding": {
        "x": {"field": "el", "type": "nominal", "scale": {"type": "point", "domain": ["La","Ce","Pr","Nd","Sm","Eu","Gd","Tb","Dy","Ho","Er","Tm","Yb","Lu"], "padding": 1}, "axis": {"orient": "top", "title": null, "labels": false, "tickSize": -5}},
        "y": {"field": "val", "type": "quantitative", "scale": {"type": "log", "domain": [0.0001, 1000], "nice": false}, "axis": {"orient": "right", "labels": false, "title": null, "values": [0.0001,0.0002,0.0003,0.0004,0.0005,0.0006,0.0007,0.0008,0.0009,0.001,0.002,0.003,0.004,0.005,0.006,0.007,0.008,0.009,0.01,0.02,0.03,0.04,0.05,0.06,0.07,0.08,0.09,0.1,0.2,0.3,0.4,0.5,0.6,0.7,0.8,0.9,1,2,3,4,5,6,7,8,9,10,20,30,40,50,60,70,80,90,100,200,300,400,500,600,700,800,900,1000], "tickSize": {"condition": {"test": "abs(log(datum.value)/LN10-round(log(datum.value)/LN10))<0.001", "value": -7}, "value": -4}}},
        "shape": {"field": "site", "type": "nominal", "scale": {"domain": ["Marlenheim","Reichenberg","Lipsheim","EPS1","Roemerberg"], "range": ["M0,-1L0.85,0L0,1L-0.85,0Z","M0,-1L1.05,0.82L-1.05,0.82Z","M-0.62,-0.62L0.62,0.62M-0.62,0.62L0.62,-0.62","M-0.68,-0.68H0.68V0.68H-0.68Z","M0.82,0A0.82,0.82 0 1,1 -0.82,0A0.82,0.82 0 1,1 0.82,0Z"]}, "legend": null},
        "color": {"field": "site", "type": "nominal", "scale": {"domain": ["Marlenheim","Reichenberg","Lipsheim","EPS1","Roemerberg"], "range": ["#F0195A","#F0195A","#1B8FEB","#1B8FEB","#1B8FEB"]}, "legend": null}
      }
    },
    {
      "data": {"name": "ree"},
      "transform": [{"fold": ["La","Ce","Pr","Nd","Sm","Eu","Gd","Tb","Dy","Ho","Er","Tm","Yb","Lu"], "as": ["el","val"]}, {"filter": "datum.site==='Lipsheim'||datum.site==='EPS1'||datum.site==='Roemerberg'"}],
      "mark": {"type": "line", "strokeWidth": 1},
      "encoding": {
        "x": {"field": "el", "type": "nominal", "scale": {"type": "point", "domain": ["La","Ce","Pr","Nd","Sm","Eu","Gd","Tb","Dy","Ho","Er","Tm","Yb","Lu"], "padding": 1}, "axis": null},
        "y": {"field": "val", "type": "quantitative", "scale": {"type": "log", "domain": [0.0001, 1000], "nice": false}, "axis": null},
        "detail": {"field": "id"},
        "order": {"value": null},
        "color": {"field": "site", "type": "nominal", "scale": {"domain": ["Marlenheim","Reichenberg","Lipsheim","EPS1","Roemerberg"], "range": ["#F0195A","#F0195A","#1B8FEB","#1B8FEB","#1B8FEB"]}, "legend": null}
      }
    },
    {
      "data": {"name": "ree"},
      "transform": [{"fold": ["La","Ce","Pr","Nd","Sm","Eu","Gd","Tb","Dy","Ho","Er","Tm","Yb","Lu"], "as": ["el","val"]}, {"filter": "datum.site==='Lipsheim'||datum.site==='EPS1'||datum.site==='Roemerberg'"}],
      "mark": {"type": "point", "filled": false, "size": 144, "strokeWidth": 1, "opacity": 1},
      "encoding": {
        "x": {"field": "el", "type": "nominal", "scale": {"type": "point", "domain": ["La","Ce","Pr","Nd","Sm","Eu","Gd","Tb","Dy","Ho","Er","Tm","Yb","Lu"], "padding": 1}, "axis": null},
        "y": {"field": "val", "type": "quantitative", "scale": {"type": "log", "domain": [0.0001, 1000], "nice": false}, "axis": null},
        "shape": {"field": "site", "type": "nominal", "scale": {"domain": ["Marlenheim","Reichenberg","Lipsheim","EPS1","Roemerberg"], "range": ["M0,-1L0.85,0L0,1L-0.85,0Z","M0,-1L1.05,0.82L-1.05,0.82Z","M-0.62,-0.62L0.62,0.62M-0.62,0.62L0.62,-0.62","M-0.68,-0.68H0.68V0.68H-0.68Z","M0.82,0A0.82,0.82 0 1,1 -0.82,0A0.82,0.82 0 1,1 0.82,0Z"]}, "legend": null},
        "color": {"field": "site", "type": "nominal", "scale": {"domain": ["Marlenheim","Reichenberg","Lipsheim","EPS1","Roemerberg"], "range": ["#F0195A","#F0195A","#1B8FEB","#1B8FEB","#1B8FEB"]}, "legend": null}
      }
    },
    {
      "data": {"values": [{}]},
      "mark": {"type": "rect", "fill": "white", "stroke": "#262626", "strokeWidth": 1},
      "encoding": {
        "x": {"datum": 7.14, "type": "quantitative", "scale": {"domain": [0, 15]}, "axis": null},
        "x2": {"datum": 14.48},
        "y": {"datum": 693, "type": "quantitative", "scale": {"type": "log", "domain": [0.0001, 1000], "nice": false}, "axis": null},
        "y2": {"datum": 24.2}
      }
    },
    {
      "data": {"values": [{}]},
      "mark": {"type": "text", "text": "Graben Shoulders", "align": "right", "baseline": "middle", "fontSize": 15, "color": "#000000"},
      "encoding": {
        "x": {"datum": 10.55, "type": "quantitative", "scale": {"domain": [0, 15]}, "axis": null},
        "y": {"datum": 290, "type": "quantitative", "scale": {"type": "log", "domain": [0.0001, 1000], "nice": false}, "axis": null}
      }
    },
    {
      "data": {"values": [{}]},
      "mark": {"type": "text", "text": "Central Graben", "align": "right", "baseline": "middle", "fontSize": 15, "color": "#000000"},
      "encoding": {
        "x": {"datum": 10.47, "type": "quantitative", "scale": {"domain": [0, 15]}, "axis": null},
        "y": {"datum": 58, "type": "quantitative", "scale": {"type": "log", "domain": [0.0001, 1000], "nice": false}, "axis": null}
      }
    },
    {
      "data": {"values": [{}]},
      "mark": {"type": "point", "shape": "square", "size": 2601, "filled": true, "fill": "white", "stroke": "#262626", "strokeWidth": 1, "opacity": 1},
      "encoding": {
        "x": {"datum": "Lu", "type": "nominal", "scale": {"type": "point", "domain": ["La","Ce","Pr","Nd","Sm","Eu","Gd","Tb","Dy","Ho","Er","Tm","Yb","Lu"], "padding": 1}, "axis": null},
        "y": {"datum": 0.000287, "type": "quantitative", "scale": {"type": "log", "domain": [0.0001, 1000], "nice": false}, "axis": null}
      }
    },
    {
      "data": {"values": [{}]},
      "mark": {"type": "text", "text": "A", "fontSize": 30, "align": "center", "baseline": "middle", "color": "#000000", "dy": 1},
      "encoding": {
        "x": {"datum": "Lu", "type": "nominal", "scale": {"type": "point", "domain": ["La","Ce","Pr","Nd","Sm","Eu","Gd","Tb","Dy","Ho","Er","Tm","Yb","Lu"], "padding": 1}, "axis": null},
        "y": {"datum": 0.000287, "type": "quantitative", "scale": {"type": "log", "domain": [0.0001, 1000], "nice": false}, "axis": null}
      }
    },
    {
      "data": {"values": [{"site": "Marlenheim"}]},
      "transform": [{"filter": "false"}],
      "mark": {"type": "point", "filled": false, "opacity": 1, "strokeWidth": 1},
      "encoding": {
        "shape": {"field": "site", "type": "nominal", "scale": {"domain": ["Marlenheim","Reichenberg","Lipsheim","EPS1","Roemerberg"], "range": ["M-6,-1.67V3.55M-5.7,-1.67V3.55M-4.67,0H4M0,-2L2.17,0L0,2L-2.17,0ZM-6,-3.55M-6,3.55","M-6,-3.55V2M-5.7,-3.55V2M-4.67,0H4M0,-2.1L2.35,1.7L-2.35,1.7ZM-6,-3.55M-6,3.55","M-6,-0.33V3.55M-5.7,-0.33V3.55M-4.67,0H4M-1.33,-1.33L1.33,1.33M-1.33,1.33L1.33,-1.33M-6,-3.55M-6,3.55","M-6,-3.55V3.55M-5.7,-3.55V3.55M-4.67,0H4M-1.5,-1.5H1.5V1.5H-1.5ZM-6,-3.55M-6,3.55","M-6,-3.55V1M-5.7,-3.55V1M-4.67,0H4M1.83,0A1.83,1.83 0 1,1 -1.83,0A1.83,1.83 0 1,1 1.83,0ZM-6,-3.55M-6,3.55"]}, "legend": {"title": null, "orient": "none", "legendX": 430, "legendY": 19, "symbolSize": 36, "labelFontSize": 15, "labelOffset": 23, "rowPadding": -5.7, "padding": 0, "symbolStrokeWidth": 1}},
        "color": {"field": "site", "type": "nominal", "scale": {"domain": ["Marlenheim","Reichenberg","Lipsheim","EPS1","Roemerberg"], "range": ["#F0195A","#F0195A","#1B8FEB","#1B8FEB","#1B8FEB"]}, "legend": {"title": null, "orient": "none", "legendX": 430, "legendY": 19, "symbolSize": 36, "labelFontSize": 15, "labelOffset": 23, "rowPadding": -5.7, "padding": 0, "symbolStrokeWidth": 1}}
      }
    }
  ],
  "resolve": {"scale": {"x": "independent", "shape": "independent", "color": "independent"}, "axis": {"x": "independent", "y": "independent"}, "legend": {"shape": "independent", "color": "independent"}}
},
{
  "width": 580, "height": 528,
  "layer": [
    {
      "data": {"name": "ratio"},
      "mark": {"type": "point", "filled": false, "size": 144, "strokeWidth": 1, "opacity": 1},
      "encoding": {
        "x": {"field": "r", "type": "quantitative", "scale": {"type": "log", "domain": [1, 100], "nice": false}, "axis": {"orient": "bottom", "title": null, "values": [1,2,3,4,5,6,7,8,9,10,20,30,40,50,60,70,80,90,100], "labelExpr": "abs(log(datum.value)/LN10-round(log(datum.value)/LN10))<0.001 ? '10'+['⁰','¹','²'][round(log(datum.value)/LN10)] : ''", "grid": true, "gridColor": {"condition": {"test": "abs(log(datum.value)/LN10-round(log(datum.value)/LN10))<0.001", "value": "#dedede"}, "value": "#bdbdbd"}, "gridDash": {"condition": {"test": "abs(log(datum.value)/LN10-round(log(datum.value)/LN10))<0.001", "value": []}, "value": [1, 2]}, "gridWidth": 1, "tickSize": {"condition": {"test": "abs(log(datum.value)/LN10-round(log(datum.value)/LN10))<0.001", "value": -7}, "value": -4}, "labelPadding": 20}},
        "y": {"field": "lu", "type": "quantitative", "scale": {"type": "log", "domain": [0.01, 50], "nice": false}, "axis": {"orient": "left", "title": null, "values": [0.01,0.02,0.03,0.04,0.05,0.06,0.07,0.08,0.09,0.1,0.2,0.3,0.4,0.5,0.6,0.7,0.8,0.9,1,2,3,4,5,6,7,8,9,10,20,30,40], "labelExpr": "abs(log(datum.value)/LN10-round(log(datum.value)/LN10))<0.001 ? '10'+['⁻²','⁻¹','⁰','¹'][round(log(datum.value)/LN10)+2] : ''", "grid": true, "gridColor": {"condition": {"test": "abs(log(datum.value)/LN10-round(log(datum.value)/LN10))<0.001", "value": "#dedede"}, "value": "#bdbdbd"}, "gridDash": {"condition": {"test": "abs(log(datum.value)/LN10-round(log(datum.value)/LN10))<0.001", "value": []}, "value": [1, 2]}, "gridWidth": 1, "tickSize": {"condition": {"test": "abs(log(datum.value)/LN10-round(log(datum.value)/LN10))<0.001", "value": -7}, "value": -4}, "labelPadding": 9}},
        "shape": {"field": "site", "type": "nominal", "scale": {"domain": ["Marlenheim","Reichenberg","Lipsheim","EPS1","Roemerberg"], "range": ["M0,-1L0.85,0L0,1L-0.85,0Z","M0,-1L1.05,0.82L-1.05,0.82Z","M-0.62,-0.62L0.62,0.62M-0.62,0.62L0.62,-0.62","M-0.68,-0.68H0.68V0.68H-0.68Z","M0.82,0A0.82,0.82 0 1,1 -0.82,0A0.82,0.82 0 1,1 0.82,0Z"]}, "legend": null},
        "color": {"field": "site", "type": "nominal", "scale": {"domain": ["Marlenheim","Reichenberg","Lipsheim","EPS1","Roemerberg"], "range": ["#F0195A","#F0195A","#1B8FEB","#1B8FEB","#1B8FEB"]}, "legend": null}
      }
    },
    {
      "data": {"values": [{"site": "Marlenheim"}]},
      "transform": [{"filter": "false"}],
      "mark": {"type": "point", "filled": false, "opacity": 1, "strokeWidth": 1},
      "encoding": {
        "shape": {"field": "site", "type": "nominal", "scale": {"domain": ["Marlenheim","Reichenberg","Lipsheim","EPS1","Roemerberg"], "range": ["M3.08,-1L3.93,0L3.08,1L2.23,0Z","M3.08,-1L4.13,0.82L2.03,0.82Z","M2.46,-0.62L3.7,0.62M2.46,0.62L3.7,-0.62","M2.4,-0.68H3.76V0.68H2.4Z","M3.9,0A0.82,0.82 0 1,1 2.26,0A0.82,0.82 0 1,1 3.9,0Z"]}, "legend": {"title": null, "orient": "bottom-left", "offset": 14, "strokeColor": "#262626", "fillColor": "white", "padding": 5.5, "symbolSize": 144, "labelFontSize": 15, "rowPadding": 4.75, "labelOffset": 42.5, "symbolStrokeWidth": 1}},
        "color": {"field": "site", "type": "nominal", "scale": {"domain": ["Marlenheim","Reichenberg","Lipsheim","EPS1","Roemerberg"], "range": ["#F0195A","#F0195A","#1B8FEB","#1B8FEB","#1B8FEB"]}, "legend": {"title": null, "orient": "bottom-left", "offset": 14, "strokeColor": "#262626", "fillColor": "white", "padding": 5.5, "symbolSize": 144, "labelFontSize": 15, "rowPadding": 4.75, "labelOffset": 42.5, "symbolStrokeWidth": 1}}
      }
    },
    {
      "data": {"values": [{}]},
      "mark": {"type": "point", "shape": "square", "size": 2601, "filled": true, "fill": "white", "stroke": "#262626", "strokeWidth": 1, "opacity": 1},
      "encoding": {
        "x": {"datum": 75.7, "type": "quantitative", "axis": {"orient": "top", "title": null, "labels": false, "grid": false, "values": [1,2,3,4,5,6,7,8,9,10,20,30,40,50,60,70,80,90,100], "tickSize": {"condition": {"test": "abs(log(datum.value)/LN10-round(log(datum.value)/LN10))<0.001", "value": -7}, "value": -4}}},
        "y": {"datum": 0.0174, "type": "quantitative", "axis": {"orient": "right", "title": null, "labels": false, "grid": false, "values": [0.01,0.02,0.03,0.04,0.05,0.06,0.07,0.08,0.09,0.1,0.2,0.3,0.4,0.5,0.6,0.7,0.8,0.9,1,2,3,4,5,6,7,8,9,10,20,30,40], "tickSize": {"condition": {"test": "abs(log(datum.value)/LN10-round(log(datum.value)/LN10))<0.001", "value": -7}, "value": -4}}}
      }
    },
    {
      "data": {"values": [{}]},
      "mark": {"type": "text", "text": "B", "fontSize": 30, "align": "center", "baseline": "middle", "color": "#000000", "dy": 1},
      "encoding": {"x": {"datum": 75.7, "type": "quantitative", "axis": null}, "y": {"datum": 0.0174, "type": "quantitative", "axis": null}}
    },
    {
      "data": {"values": [{}]},
      "mark": {"type": "text", "text": "La", "fontSize": 19, "align": "left", "baseline": "alphabetic", "dx": -44, "dy": 53, "color": "#262626"},
      "encoding": {"x": {"datum": 10, "type": "quantitative", "axis": null}, "y": {"datum": 0.01, "type": "quantitative", "axis": null}}
    },
    {
      "data": {"values": [{}]},
      "mark": {"type": "text", "text": "CN", "fontSize": 14, "align": "left", "baseline": "alphabetic", "dx": -23, "dy": 62, "color": "#262626"},
      "encoding": {"x": {"datum": 10, "type": "quantitative", "axis": null}, "y": {"datum": 0.01, "type": "quantitative", "axis": null}}
    },
    {
      "data": {"values": [{}]},
      "mark": {"type": "text", "text": "/Lu", "fontSize": 19, "align": "left", "baseline": "alphabetic", "dx": -3, "dy": 53, "color": "#262626"},
      "encoding": {"x": {"datum": 10, "type": "quantitative", "axis": null}, "y": {"datum": 0.01, "type": "quantitative", "axis": null}}
    },
    {
      "data": {"values": [{}]},
      "mark": {"type": "text", "text": "CN", "fontSize": 14, "align": "left", "baseline": "alphabetic", "dx": 24, "dy": 62, "color": "#262626"},
      "encoding": {"x": {"datum": 10, "type": "quantitative", "axis": null}, "y": {"datum": 0.01, "type": "quantitative", "axis": null}}
    },
    {
      "data": {"values": [{}]},
      "mark": {"type": "text", "text": "Lu", "fontSize": 19, "align": "left", "baseline": "alphabetic", "angle": 270, "dx": -10, "dy": -56, "color": "#262626"},
      "encoding": {"x": {"datum": 1, "type": "quantitative", "axis": null}, "y": {"datum": 0.5, "type": "quantitative", "axis": null}}
    },
    {
      "data": {"values": [{}]},
      "mark": {"type": "text", "text": "CN", "fontSize": 14, "align": "left", "baseline": "alphabetic", "angle": 270, "dx": 11, "dy": -47, "color": "#262626"},
      "encoding": {"x": {"datum": 1, "type": "quantitative", "axis": null}, "y": {"datum": 0.5, "type": "quantitative", "axis": null}}
    }
  ],
  "resolve": {"scale": {"shape": "independent", "color": "independent"}, "axis": {"x": "independent", "y": "independent"}, "legend": {"shape": "independent", "color": "independent"}}
}
],
"resolve": {"scale": {"shape": "independent", "color": "independent"}, "legend": {"shape": "independent", "color": "independent"}},
"spacing": 110,
"bounds": "flush"
}
